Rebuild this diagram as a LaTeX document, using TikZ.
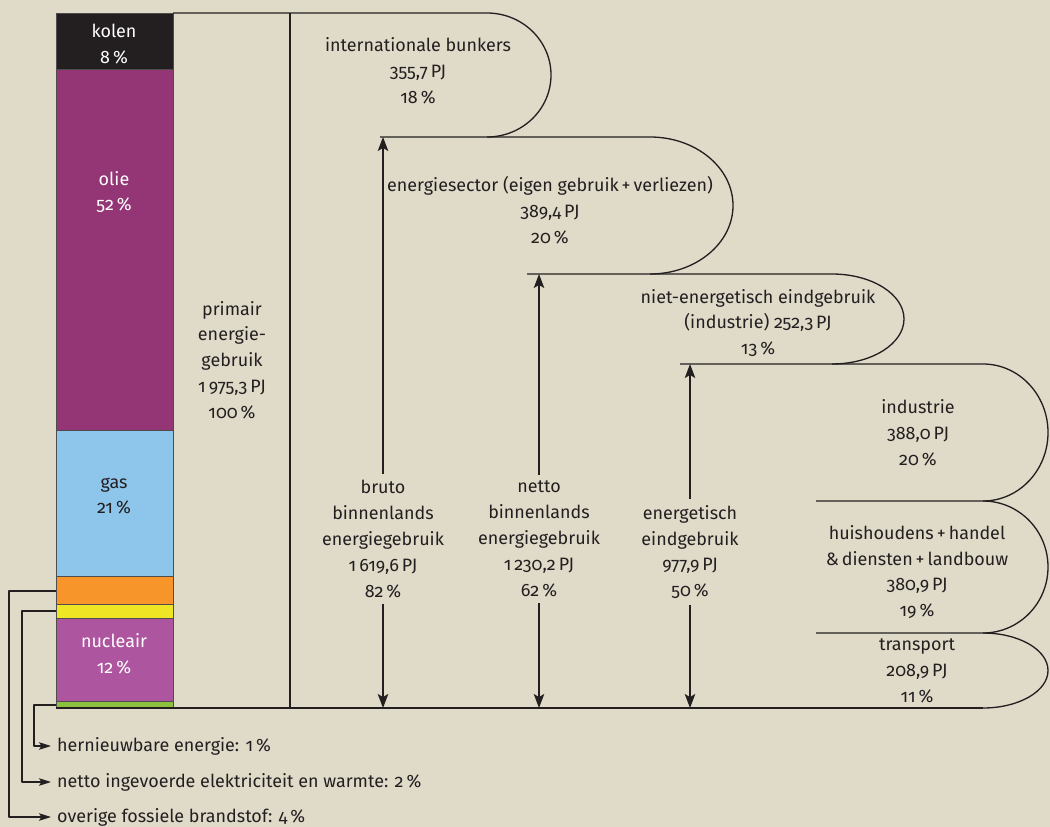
\documentclass[tikz,border=0pt]{standalone}
\usepackage{fontspec}
\setmainfont{Fira Sans}[Numbers=OldStyle]
\usepackage{tikz}
\usetikzlibrary{arrows.meta, positioning}

\definecolor{bgbeige}{HTML}{E0DAC9}
\definecolor{ink}{HTML}{231F20}
\definecolor{kolencol}{HTML}{231F20}
\definecolor{oliecol}{HTML}{943576}
\definecolor{gascol}{HTML}{8EC5EA}
\definecolor{overigcol}{HTML}{F7952B}
\definecolor{importcol}{HTML}{EEE525}
\definecolor{nuclcol}{HTML}{AD559F}
\definecolor{hernwcol}{HTML}{8BC13F}

% half-elliptic bend: start x, top y, bottom y, bulge
\newcommand{\uturn}[4]{.. controls ({#1+0.552*#4},#2) and ({#1+#4},{#2+0.224*(#3-#2)}) .. ({#1+#4},{(#2+#3)/2}) .. controls ({#1+#4},{#3-0.224*(#3-#2)}) and ({#1+0.552*#4},#3) .. (#1,#3)}

\tikzset{
flow/.style={draw=ink, line width=0.75pt}, % outline of the flows
seg/.style={draw=ink!80, line width=0.5pt}, % parts of the stacked bar
txt/.style={align=center, text=ink, font=\fontsize{10.2}{14.7}\selectfont},
legtxt/.style={text=ink, font=\fontsize{10.2}{14.7}\selectfont},
arr/.style={draw=ink, line width=0.75pt, -{Stealth[length=2.8mm, width=2.1mm, inset=0.6mm]}},
legarr/.style={draw=ink, line width=0.6pt, -{Stealth[length=2.4mm, width=1.5mm, inset=0.5mm]}},
}

\begin{document}
\begin{tikzpicture}[x=0.02cm, y=-0.02cm, line join=round]
    \fill[bgbeige] (0,0) rectangle (1050,827);
    \useasboundingbox (0,0) rectangle (1050,827);

    % stacked bar
    \path[seg, fill=kolencol] (56,13) rectangle (173,69);
    \path[seg, fill=oliecol] (56,69) rectangle (173,430);
    \path[seg, fill=gascol] (56,430) rectangle (173,576);
    \path[seg, fill=overigcol] (56,576) rectangle (173,604);
    \path[seg, fill=importcol] (56,604) rectangle (173,618);
    \path[seg, fill=nuclcol] (56,618) rectangle (173,701);
    \path[seg, fill=hernwcol] (56,701) rectangle (173,708);

    \node[txt, text=white] (kolen) at (114,44) {kolen\\8\,\%};
    \node[txt, text=white] (olie) at (114,192) {olie\\52\,\%};
    \node[txt] (gas) at (114,496) {gas\\21\,\%};
    \node[txt, text=white] (nucl) at (114,654) {nucleair\\12\,\%};

    % flows
    \coordinate (base) at (56,708);
    \coordinate (bunkers-bot) at (380,137);
    \coordinate (sector-bot) at (527,274);
    \coordinate (niet-bot) at (680,364);

    \draw[flow] (173,13) -- (487,13) \uturn{487}{13}{137}{64};
    \draw[flow] (bunkers-bot) -- (650,137) \uturn{650}{137}{274}{83};
    \draw[flow] (sector-bot) -- (832,274) \uturn{832}{274}{364}{72};
    \draw[flow] (niet-bot) -- (983,364) \uturn{983}{364}{501}{65};
    \draw[flow] (816,501) -- (983,501) \uturn{983}{501}{633}{65};
    \draw[flow] (816,633) -- (983,633) \uturn{983}{633}{708}{65};
    \draw[flow] (base) -- (983,708);
    \draw[flow] (290,13) -- (290,708);

    \node[txt] (primair) at (232,360) {primair\\energie-\\gebruik\\1\,975,3\,PJ\\100\,\%};
    \node[txt] (bunkers) at (418,71) {internationale bunkers\\355,7\,PJ\\18\,\%};
    \node[txt] (sector) at (550,210) {energiesector (eigen gebruik\,+\,verliezen)\\389,4\,PJ\\20\,\%};
    \node[txt] (niet) at (758,323) {niet-energetisch eindgebruik\\(industrie) 252,3\,PJ\\13\,\%};
    \node[txt] (industrie) at (918,433) {industrie\\388,0\,PJ\\20\,\%};
    \node[txt] (huish) at (917,572) {huishoudens\,+\,handel\\\&\,diensten\,+\,landbouw\\380,9\,PJ\\19\,\%};
    \node[txt] (transport) at (917,671) {transport\\208,9\,PJ\\11\,\%};

    % totals with arrows
    \node[txt] (bruto) at (383,539) {bruto\\binnenlands\\energiegebruik\\1\,619,6\,PJ\\82\,\%};
    \node[txt] (netto) at (539,539) {netto\\binnenlands\\energiegebruik\\1\,230,2\,PJ\\62\,\%};
    \node[txt] (eind) at (690,552) {energetisch\\eindgebruik\\977,9\,PJ\\50\,\%};

    \draw[arr] (bruto) -- (bruto |- bunkers-bot);
    \draw[arr] (bruto) -- (bruto |- base);
    \draw[arr] (netto) -- (netto |- sector-bot);
    \draw[arr] (netto) -- (netto |- base);
    \draw[arr] (eind) -- (eind |- niet-bot);
    \draw[arr] (eind) -- (eind |- base);

    % legend of the small parts
    \coordinate (hernw-src) at (56,705);
    \coordinate (import-src) at (56,611);
    \coordinate (overig-src) at (56,591);
    \node[legtxt, anchor=west] (hernw) at (51,746) {hernieuwbare energie: 1\,\%};
    \node[legtxt, anchor=west] (import) at (51,782) {netto ingevoerde elektriciteit en warmte: 2\,\%};
    \node[legtxt, anchor=west] (overig) at (51,817) {overige fossiele brandstof: 4\,\%};

    \draw[legarr] (hernw-src) -- ++(-22,0) |- (hernw.west);
    \draw[legarr] (import-src) -- ++(-34,0) |- (import.west);
    \draw[legarr] (overig-src) -- ++(-47,0) |- (overig.west);
\end{tikzpicture}
\end{document}
